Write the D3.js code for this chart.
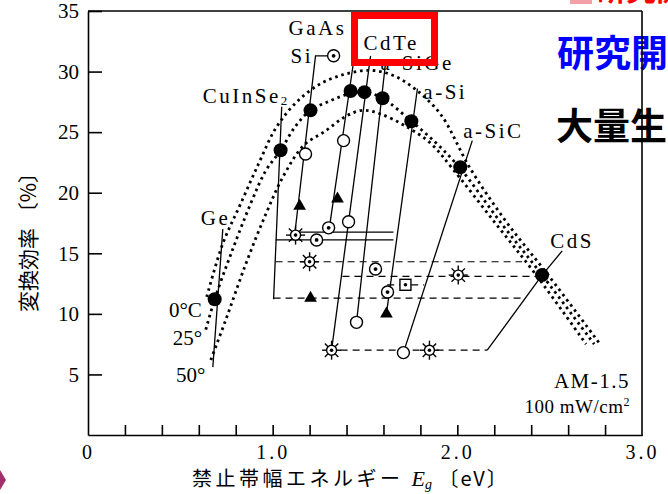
<!DOCTYPE html>
<html>
<head>
<meta charset="utf-8">
<script src="https://cdn.jsdelivr.net/npm/d3@7"></script>
<style>
  body { margin: 0; background: #fff; }
  svg { display: block; }
  .serif { font-family: "Liberation Serif", "DejaVu Serif", serif; }
  .cjk { font-family: "Noto Sans CJK JP", sans-serif; }
</style>
</head>
<body>
<div id="chart"></div>
<script>
// ---- data (bandgap E in eV, efficiency in %) ----
const yTickValues = [5, 10, 15, 20, 25, 30, 35];
const xLabelValues = [0, 1, 2, 3];
const xLabelText = ["0", "1.0", "2.0", "3.0"];
const xMinorValues = [0.2, 0.4, 0.6, 0.8, 1.0, 1.2, 1.4, 1.6, 1.8, 2.0, 2.2, 2.4, 2.6, 2.8];

// theoretical efficiency curves at 0, 25, 50 degC
const curve0C = [[0.643, 11.4], [0.730, 15.8], [0.827, 19.1], [0.924, 22.4], [1.016, 25.3], [1.124, 27.4],
  [1.259, 29.0], [1.395, 29.8], [1.530, 30.1], [1.649, 29.7], [1.768, 28.6], [1.908, 26.5], [2.070, 22.0],
  [2.265, 17.6], [2.492, 13.2], [2.773, 7.5]];
const curve25C = [[0.638, 8.7], [0.686, 11.2], [0.773, 14.9], [0.881, 19.1], [0.962, 21.8], [1.043, 23.5],
  [1.124, 25.5], [1.205, 26.8], [1.314, 27.6], [1.422, 28.2], [1.503, 28.3], [1.595, 27.8], [1.751, 25.9],
  [1.892, 24.0], [2.016, 22.0], [2.232, 17.6], [2.459, 13.2], [2.741, 7.5]];
const curve50C = [[0.665, 6.2], [0.746, 9.5], [0.854, 14.1], [0.962, 18.2], [1.059, 21.4], [1.168, 23.9],
  [1.286, 25.1], [1.395, 26.3], [1.486, 26.8], [1.584, 26.5], [1.719, 25.5], [1.854, 24.1], [1.973, 22.0],
  [2.200, 17.6], [2.427, 13.2], [2.697, 7.5]];

// markers
const filledPts = [[0.686, 11.2], [1.043, 23.5], [1.205, 26.8], [1.422, 28.4], [1.497, 28.3], [1.595, 27.8],
  [1.751, 25.9], [2.016, 22.1], [2.459, 13.2]];
const openPts = [[1.178, 23.2], [1.384, 24.3], [1.411, 17.6], [1.454, 9.3], [1.708, 6.8]];
const dotPts = [[1.330, 31.3], [1.303, 17.1], [1.238, 16.1], [1.557, 13.7], [1.622, 11.8]];
const sunPts = [[1.124, 16.5], [1.200, 14.3], [2.005, 13.2], [1.319, 7.0], [1.849, 7.0]];
const triPts = [[1.146, 18.9], [1.351, 19.5], [1.205, 11.3], [1.616, 10.0]];
const squarePts = [[1.719, 12.4]];

// leader lines
const geLine = [[0.730, 17.0], [0.676, 5.6]];
const cisLine = [[1.049, 27.1], [1.005, 11.2]];
const siLine = [[1.330, 31.3], [1.232, 31.3], [1.119, 16.5]];
const gaasLine = [[1.459, 33.0], [1.308, 17.2]];
const cdteLine = [[1.530, 31.3], [1.319, 7.0]];
const asigeLine = [[1.611, 30.7], [1.454, 9.3]];
const asiLine = [[1.784, 28.6], [1.616, 10.0]];
const asicLine = [[2.081, 24.3], [1.708, 6.8]];
const cdsLine = [[2.162, 7.0], [2.459, 13.2], [2.568, 15.2]];
const solidRows = [[[1.016, 16.1], [1.654, 16.1]], [[1.124, 16.75], [1.654, 16.75]]];
const dashedRows = [[[1.016, 14.3], [2.351, 14.3]], [[1.378, 13.1], [2.459, 13.1]],
  [[1.005, 11.3], [2.351, 11.3]], [[1.368, 7.0], [2.162, 7.0]], [[1.62, 12.4], [1.82, 12.4]]];

// text labels [text, E, eff]
const materialLabels = [["GaAs", 1.086, 33.0], ["Si", 1.097, 30.7], ["CdTe", 1.492, 31.8],
  ["a-SiGe", 1.584, 30.1], ["a-Si", 1.816, 27.7], ["a-SiC", 2.032, 24.5], ["CdS", 2.503, 15.4],
  ["Ge", 0.611, 17.3]];
const tempLabels = [["0°C", 0.438, 9.7], ["25°", 0.459, 7.4], ["50°", 0.476, 4.4]];

// ---- chart ----
const width = 668, height = 494;
const svg = d3.select("#chart").append("svg")
  .attr("width", width)
  .attr("height", height);

const x = d3.scaleLinear().domain([0, 3]).range([88, 642]);
const y = d3.scaleLinear().domain([0, 35]).range([435, 11]);

// slide decorations behind the chart
svg.append("rect").attr("x", 570).attr("y", 0).attr("width", 22).attr("height", 4).attr("fill", "#f4a0a8");
svg.append("text").attr("class", "cjk").attr("x", 596).attr("y", 0)
  .attr("font-size", 30).attr("font-weight", "bold").attr("fill", "#ff0000").text("研究開");
svg.append("text").attr("class", "cjk").attr("x", 557).attr("y", 67)
  .attr("font-size", 37).attr("font-weight", "bold").attr("fill", "#0000ff").text("研究開");
svg.append("text").attr("class", "cjk").attr("x", 556).attr("y", 140)
  .attr("font-size", 37).attr("font-weight", "bold").attr("fill", "#000").text("大量生");
svg.append("polygon").attr("points", "0,470 6,480 0,490").attr("fill", "#a0306a");

// efficiency curves (dotted)
const curveLine = d3.line()
  .x(d => x(d[0]))
  .y(d => y(d[1]))
  .curve(d3.curveCatmullRom.alpha(0.5));

[curve0C, curve25C, curve50C].forEach(c => {
  svg.append("path")
    .attr("d", curveLine(c))
    .attr("fill", "none")
    .attr("stroke", "#000")
    .attr("stroke-width", 2.8)
    .attr("stroke-dasharray", "2.6,3.8");
});

// straight lines
const straight = d3.line().x(d => x(d[0])).y(d => y(d[1]));

dashedRows.forEach(r => {
  svg.append("path").attr("d", straight(r)).attr("fill", "none")
    .attr("stroke", "#000").attr("stroke-width", 1.2).attr("stroke-dasharray", "7,5");
});
[...solidRows, geLine, cisLine, siLine, gaasLine, cdteLine, asigeLine, asiLine, asicLine, cdsLine].forEach(r => {
  svg.append("path").attr("d", straight(r)).attr("fill", "none")
    .attr("stroke", "#000").attr("stroke-width", 1.3);
});

// markers
const mk = svg.append("g");

mk.selectAll(".sun").data(sunPts).join("g")
  .attr("class", "sun")
  .attr("transform", d => `translate(${x(d[0])},${y(d[1])})`)
  .each(function () {
    const g = d3.select(this);
    d3.range(8).forEach(i => {
      const a = i * Math.PI / 4;
      g.append("line")
        .attr("x1", 5 * Math.cos(a)).attr("y1", 5 * Math.sin(a))
        .attr("x2", 9.5 * Math.cos(a)).attr("y2", 9.5 * Math.sin(a))
        .attr("stroke", "#000").attr("stroke-width", 1.4);
    });
    g.append("circle").attr("r", 5).attr("fill", "#fff").attr("stroke", "#000").attr("stroke-width", 1.4);
    g.append("circle").attr("r", 1.8).attr("fill", "#000");
  });

mk.selectAll(".open").data(openPts).join("circle")
  .attr("class", "open")
  .attr("cx", d => x(d[0])).attr("cy", d => y(d[1])).attr("r", 6)
  .attr("fill", "#fff").attr("stroke", "#000").attr("stroke-width", 1.4);

mk.selectAll(".dotc").data(dotPts).join("g")
  .attr("class", "dotc")
  .attr("transform", d => `translate(${x(d[0])},${y(d[1])})`)
  .each(function () {
    const g = d3.select(this);
    g.append("circle").attr("r", 6).attr("fill", "#fff").attr("stroke", "#000").attr("stroke-width", 1.4);
    g.append("circle").attr("r", 1.9).attr("fill", "#000");
  });

mk.selectAll(".sq").data(squarePts).join("g")
  .attr("class", "sq")
  .attr("transform", d => `translate(${x(d[0])},${y(d[1])})`)
  .each(function () {
    const g = d3.select(this);
    g.append("rect").attr("x", -5.5).attr("y", -5.5).attr("width", 11).attr("height", 11)
      .attr("fill", "#fff").attr("stroke", "#000").attr("stroke-width", 1.4);
    g.append("circle").attr("r", 1.8).attr("fill", "#000");
  });

mk.selectAll(".tri").data(triPts).join("path")
  .attr("class", "tri")
  .attr("d", d3.symbol(d3.symbolTriangle, 70))
  .attr("transform", d => `translate(${x(d[0])},${y(d[1])})`)
  .attr("fill", "#000");

mk.selectAll(".filled").data(filledPts).join("circle")
  .attr("class", "filled")
  .attr("cx", d => x(d[0])).attr("cy", d => y(d[1])).attr("r", 7)
  .attr("fill", "#000");

// material / temperature labels
svg.selectAll(".mlabel").data(materialLabels).join("text")
  .attr("class", "mlabel serif")
  .attr("x", d => x(d[1])).attr("y", d => y(d[2]))
  .attr("font-size", 21)
  .attr("letter-spacing", 2.5)
  .text(d => d[0]);

svg.selectAll(".tlabel").data(tempLabels).join("text")
  .attr("class", "tlabel serif")
  .attr("x", d => x(d[1])).attr("y", d => y(d[2]))
  .attr("font-size", 21)
  .text(d => d[0]);

const cis = svg.append("text").attr("class", "serif")
  .attr("x", x(0.622)).attr("y", y(27.4)).attr("font-size", 21).attr("letter-spacing", 2.5);
cis.append("tspan").text("CuInSe");
cis.append("tspan").attr("font-size", 13).attr("dy", 2).text("2");

svg.append("text").attr("class", "serif").attr("text-anchor", "end")
  .attr("x", x(2.935)).attr("y", y(3.9)).attr("font-size", 21).attr("letter-spacing", 1.5).text("AM-1.5");
const pw = svg.append("text").attr("class", "serif").attr("text-anchor", "end")
  .attr("x", x(2.935)).attr("y", y(1.8)).attr("font-size", 19).attr("letter-spacing", 0.5);
pw.append("tspan").text("100 mW/cm");
pw.append("tspan").attr("font-size", 12).attr("dy", -7).text("2");

// axes
const yAxis = d3.axisLeft(y).tickValues(yTickValues).tickSize(-14).tickSizeOuter(0).tickPadding(9);
const yG = svg.append("g").attr("transform", `translate(${x(0)},0)`).call(yAxis);
yG.selectAll("text").attr("class", "serif").attr("font-size", 21).attr("fill", "#000");

const xMinor = d3.axisBottom(x).tickValues(xMinorValues).tickSize(-10).tickSizeOuter(0).tickFormat("");
const xMinorG = svg.append("g").attr("transform", `translate(0,${y(0)})`).call(xMinor);
xMinorG.selectAll("text").remove();

const xLab = d3.axisBottom(x).tickValues(xLabelValues).tickSize(0).tickPadding(10)
  .tickFormat((d, i) => xLabelText[i]);
const xG = svg.append("g").attr("transform", `translate(0,${y(0)})`).call(xLab);
xG.select(".domain").remove();
xG.selectAll(".tick line").remove();
xG.selectAll("text").attr("class", "serif").attr("font-size", 20).attr("fill", "#000")
  .attr("letter-spacing", 3);

svg.selectAll(".domain, .tick line").attr("stroke", "#000").attr("stroke-width", 1.6);

// frame top and right
svg.append("line").attr("x1", x(0)).attr("x2", x(3)).attr("y1", y(35)).attr("y2", y(35))
  .attr("stroke", "#000").attr("stroke-width", 1.6);
svg.append("line").attr("x1", x(3)).attr("x2", x(3)).attr("y1", y(35)).attr("y2", y(0) + 1)
  .attr("stroke", "#000").attr("stroke-width", 1.6);

// axis titles
svg.append("text").attr("class", "cjk")
  .attr("transform", "translate(36,237) rotate(-90)")
  .attr("text-anchor", "middle").attr("font-size", 21)
  .text("変換効率 〔%〕");

const xt = svg.append("text").attr("x", 192).attr("y", 486).attr("font-size", 20);
xt.append("tspan").attr("class", "cjk").attr("letter-spacing", 3.5).text("禁止帯幅エネルギー ");
xt.append("tspan").attr("class", "serif").attr("font-style", "italic").attr("font-size", 22).text("E");
xt.append("tspan").attr("class", "serif").attr("font-style", "italic").attr("font-size", 14).attr("dy", 3).text("g");
xt.append("tspan").attr("class", "cjk").attr("dy", -3).attr("letter-spacing", 2).text(" 〔eV〕");

// red highlight box around CdTe
svg.append("rect").attr("x", 354.5).attr("y", 15.5).attr("width", 80).attr("height", 47)
  .attr("fill", "none").attr("stroke", "#ff0000").attr("stroke-width", 7);
</script>
</body>
</html>
